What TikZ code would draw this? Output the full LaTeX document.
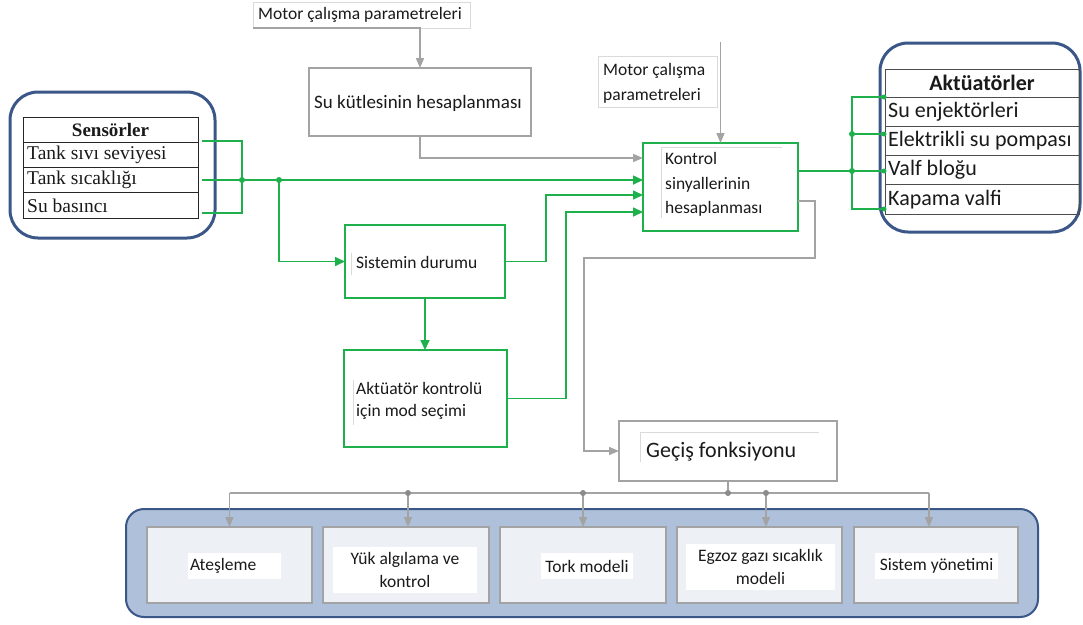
\documentclass[tikz,border=0pt]{standalone}
\usepackage{fontspec}
\setmainfont{Carlito}
\newfontfamily\serif{Liberation Serif}
\usetikzlibrary{arrows.meta}
\definecolor{grn}{HTML}{1DB04B}
\definecolor{gln}{HTML}{A3A3A3}
\definecolor{dblue}{HTML}{3A5788}
\definecolor{pblue}{HTML}{AEC0DA}
\definecolor{pbox}{HTML}{EDF0F5}
\definecolor{faint}{HTML}{DADADA}
\definecolor{txt}{HTML}{1A1A1A}
\begin{document}
\begin{tikzpicture}[x=1pt,y=-1pt,
 rect/.style={anchor=north west, inner sep=0pt, outer sep=0pt},
 gbox/.style={rect, draw=grn, line width=2.6pt},
 ybox/.style={rect, draw=gln, line width=2.6pt},
 lab/.style={anchor=west, inner sep=0pt, align=left, text=txt, font=\fontsize{17.5}{24.5}\selectfont},
 gw/.style={draw=grn, line width=1.6pt},
 ga/.style={gw, -{Triangle[length=10pt,width=9pt]}},
 yw/.style={draw=gln, line width=1.5pt},
 ya/.style={yw, -{Triangle[length=10pt,width=8pt]}},
 gdot/.style={circle, fill=grn, inner sep=0pt, minimum size=6pt},
 ydot/.style={circle, fill=gln!85!black, inner sep=0pt, minimum size=6pt},
 srow/.style={rect, draw=black!85, line width=1pt, minimum width=175pt, minimum height=25.25pt},
 arow/.style={rect, draw=black!70, line width=1pt, minimum width=194pt, minimum height=29.25pt},
 bbox/.style={rect, fill=pbox, draw=gln, line width=1.5pt, minimum height=76pt},
 wlab/.style={rect, fill=white, align=center, text=txt, font=\fontsize{17.5}{23}\selectfont},
 fl/.style={draw=faint, line width=1pt},
 sfont/.style={font=\serif\fontsize{19.5}{22}\selectfont},
 afont/.style={font=\fontsize{22}{26}\selectfont},
]
\useasboundingbox[fill=white] (0,0) rectangle (1083,624);

% ---------- Sensors ----------
\node[rect, draw=dblue, line width=3pt, rounded corners=28pt, minimum width=205pt, minimum height=146pt] (sens) at (10,92) {};
\node[srow] (sh) at (23,117) {};
\node[inner sep=0pt, text=txt, font=\serif\bfseries\fontsize{19}{22}\selectfont] (sht) at (sh.center) {Sensörler};
\node[srow] (s1) at (23,142.25) {};
\node[lab, sfont] (s1t) at ([xshift=4pt]s1.west) {Tank sıvı seviyesi};
\node[srow] (s2) at (23,167.5) {};
\node[lab, sfont] (s2t) at ([xshift=4pt]s2.west) {Tank sıcaklığı};
\node[srow] (s3) at (23,192.75) {};
\node[lab, sfont] (s3t) at ([xshift=4pt]s3.west) {Su basıncı};

% ---------- Top boxes ----------
\node[rect, draw=faint, line width=1pt, minimum width=217pt, minimum height=26pt] (mp1) at (253,2) {};
\node[lab] (mp1t) at ([xshift=5pt]mp1.west) {Motor çalışma parametreleri};
\node[ybox, minimum width=222pt, minimum height=68pt] (sk) at (309,68) {};
\node[lab, font=\fontsize{19}{24}\selectfont] (skt) at ([xshift=5pt,yshift=-1pt]sk.west) {Su kütlesinin hesaplanması};

\node[rect, draw=faint, line width=1pt, minimum width=119pt, minimum height=51pt] (mp2) at (598,56) {};
\node[lab] (mp2t) at ([xshift=5pt,yshift=-2pt]mp2.west) {Motor çalışma\\parametreleri};

\node[gbox, minimum width=155pt, minimum height=88pt] (kontrol) at (643,143) {};
\draw[fl] (661,218) -- (661,147) -- (782,147);
\node[lab] (kontrolt) at ([xshift=22pt,yshift=2.5pt]kontrol.west) {Kontrol\\sinyallerinin\\hesaplanması};

% ---------- Middle boxes ----------
\node[gbox, minimum width=160pt, minimum height=73pt] (sist) at (345,225) {};
\draw[fl] (351,253) -- (351,275);
\node[lab] (sistt) at ([xshift=11pt,yshift=-1pt]sist.west) {Sistemin durumu};
\node[gbox, minimum width=163pt, minimum height=97pt] (akt) at (344,350) {};
\draw[fl] (353,380) -- (353,425);
\node[lab, font=\fontsize{17.5}{22.5}\selectfont] (aktt) at ([xshift=12pt,yshift=-2.5pt]akt.west) {Aktüatör kontrolü\\için mod seçimi};

\node[ybox, minimum width=218pt, minimum height=60pt] (gecis) at (619,421) {};
\draw[fl] (640,462) -- (640,432) -- (819,432);
\node[lab, font=\fontsize{22}{26}\selectfont] (gecist) at ([xshift=27pt,yshift=-1pt]gecis.west) {Geçiş fonksiyonu};

% ---------- Actuators ----------
\node[rect, draw=dblue, line width=3pt, rounded corners=28pt, minimum width=200pt, minimum height=189pt] (actc) at (880,43) {};
\node[arow, minimum height=28pt] (ah) at (885,69) {};
\node[inner sep=0pt, text=txt, font=\bfseries\fontsize{22}{26}\selectfont] (aht) at (ah.center) {Aktüatörler};
\node[arow] (a1) at (885,97) {};
\node[lab, afont] (a1t) at ([xshift=3pt]a1.west) {Su enjektörleri};
\node[arow] (a2) at (885,126.25) {};
\node[lab, afont] (a2t) at ([xshift=3pt]a2.west) {Elektrikli su pompası};
\node[arow] (a3) at (885,155.5) {};
\node[lab, afont] (a3t) at ([xshift=3pt]a3.west) {Valf bloğu};
\node[arow] (a4) at (885,184.75) {};
\node[lab, afont] (a4t) at ([xshift=3pt]a4.west) {Kapama valfi};

% ---------- Bottom ----------
\node[rect, fill=pblue, draw=dblue, line width=2pt, rounded corners=18pt, minimum width=912pt, minimum height=108pt] (bot) at (126,509) {};
\node[bbox, minimum width=165pt] (bb1) at (147,527) {};
\node[bbox, minimum width=166pt] (bb2) at (323,527) {};
\node[bbox, minimum width=166pt] (bb3) at (500,527) {};
\node[bbox, minimum width=165pt] (bb4) at (677,527) {};
\node[bbox, minimum width=164pt] (bb5) at (854,527) {};
\node[wlab, minimum height=26pt, text width=89pt, inner xsep=2pt, align=left] (w1) at (188,553) {Ateşleme};
\node[wlab, minimum width=144pt, minimum height=46pt] (w2) at (333,547) {Yük algılama ve\\kontrol};
\node[wlab, minimum width=92pt, minimum height=26pt] (w3) at (541,553) {Tork modeli};
\node[wlab, minimum width=149pt, minimum height=46pt] (w4) at (686,544) {Egzoz gazı sıcaklık\\modeli};
\node[wlab, minimum width=123pt, minimum height=26pt] (w5) at (875,553) {Sistem yönetimi};

% ---------- Connectors ----------
\coordinate (so1) at ([xshift=4pt,yshift=1pt]s1.north east);
\coordinate (so2) at ([xshift=4pt,yshift=0.1pt]s2.east);
\coordinate (so3) at ([xshift=4pt,yshift=5pt]s3.south east);
\coordinate (j1) at (242,180);
\coordinate (j2) at (279,180);
\draw[gw] (so1) -| (j1) |- (so3);
\draw[ga] (so2) -- (so2 -| kontrol.west);
\draw[ga] (j2) |- (sist.west);
\node[gdot] (dj1) at (j1) {};
\node[gdot] (dj2) at (j2) {};

\draw[ya] (mp1.south west) -| (sk.north);
\draw[ya] (sk.south) |- ([yshift=29pt]kontrol.west);
\coordinate (top2) at (720.5,42);
\draw[ya] (top2) -- (kontrol.north);

\coordinate (b1) at (546,195);
\draw[ga] (sist.east) -| (b1) -- (b1 -| kontrol.west);
\coordinate (b2) at (566,212);
\draw[ga] (akt.east) -| (b2) -- (b2 -| kontrol.west);
\draw[ga] (sist.south) -- (sist.south |- akt.north);

% actuators wiring
\coordinate (kout) at ([yshift=16pt]kontrol.east);
\coordinate (v1) at (852,97);
\coordinate (v2) at (852,134);
\coordinate (v3) at (852,171);
\coordinate (v4) at (852,209);
\coordinate (e1) at (884,97);
\coordinate (e2) at (884,134);
\coordinate (e3) at (884,171);
\coordinate (e4) at (884,209);
\draw[gw] (kout) -- (e3);
\draw[gw] (e1) -- (v1) -- (v4) -- (e4);
\draw[gw] (v2) -- (e2);
\node[gdot] (dv2) at (v2) {};
\node[gdot] (dv3) at (v3) {};
\node[gdot, minimum size=5pt] (de1) at (e1) {};
\node[gdot, minimum size=5pt] (de2) at (e2) {};
\node[gdot, minimum size=5pt] (de3) at (e3) {};
\node[gdot, minimum size=5pt] (de4) at (e4) {};

% to transition function
\coordinate (g1) at (815,258);
\coordinate (g2) at (584,258);
\draw[ya] ([yshift=-14pt]kontrol.east) -| (g1) -- (g2) |- (gecis.west);

% distribution
\coordinate (d1) at (229.5,493);
\coordinate (d2) at (408,493);
\coordinate (d3) at (583,493);
\coordinate (d4) at (766,493);
\coordinate (d5) at (929,493);
\draw[yw] (d1) -- (d5);
\draw[yw] (gecis.south) -- (gecis.south |- d1);
\draw[ya] (d1) -- (d1 |- bb1.north);
\draw[ya] (d2) -- (d2 |- bb2.north);
\draw[ya] (d3) -- (d3 |- bb3.north);
\draw[ya] (d4) -- (d4 |- bb4.north);
\draw[ya] (d5) -- (d5 |- bb5.north);
\node[ydot] (dd2) at (d2) {};
\node[ydot] (dd3) at (d3) {};
\node[ydot] (dd4) at (d4) {};
\node[ydot] (ddg) at (gecis.south |- d1) {};
\end{tikzpicture}
\end{document}
